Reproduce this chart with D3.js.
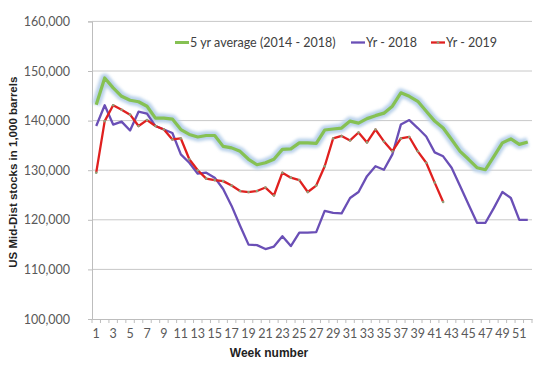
<!DOCTYPE html>
<html>
<head>
<meta charset="utf-8">
<script src="https://cdn.jsdelivr.net/npm/d3@7"></script>
<style>
  html, body { margin: 0; padding: 0; background: #fff; }
  svg { display: block; }
</style>
</head>
<body>
<svg id="chart" width="542" height="371"></svg>
<script>
const weeks = [1,2,3,4,5,6,7,8,9,10,11,12,13,14,15,16,17,18,19,20,21,22,23,24,25,26,
  27,28,29,30,31,32,33,34,35,36,37,38,39,40,41,42,43,44,45,46,47,48,49,50,51,52];

const avg5yr = [143200,148600,146600,144900,144100,143800,142900,140500,140500,140300,
  138200,137200,136700,137000,137000,134800,134500,133800,132200,131100,131500,132200,
  134200,134300,135500,135500,135400,138100,138300,138500,139900,139500,140400,141000,
  141500,142900,145600,144900,143900,141900,139900,138500,136200,133800,132200,130500,
  130100,132800,135500,136300,135200,135700];

const yr2018 = [138900,143100,139200,139800,138000,141800,141400,138900,138200,137500,
  133200,131500,129300,129500,128500,126200,122800,118800,115000,114900,114100,114600,
  116700,114700,117400,117400,117500,121800,121400,121300,124400,125600,128800,130800,
  130100,133200,139200,140100,138500,136800,133600,132800,130500,126800,123100,119400,
  119400,122400,125600,124400,120000,120000];

const yr2019 = [129500,139900,143100,142200,141200,138900,140100,138900,138200,136200,
  136400,132200,130000,128300,128000,127800,126900,125800,125600,125800,126500,124900,
  129500,128500,128000,125600,126900,130800,136400,136900,136000,137600,135600,138200,
  135800,133800,136400,136700,133800,131500,127500,123600];

const yTicks = [100000,110000,120000,130000,140000,150000,160000];
const seriesNames = ["5 yr average (2014 - 2018)", "Yr - 2018", "Yr - 2019"];
const yTitle = "US Mid-Dist stocks in 1,000 barrels";
const xTitle = "Week number";

(function () {
const svg = d3.select("#chart");
const mLeft = 92, mRight = 532, mTop = 21.4, mBottom = 319;

const x = d3.scaleBand().domain(weeks).range([mLeft, mRight]).padding(0);
const y = d3.scaleLinear().domain([100000, 160000]).range([mBottom, mTop]);

const defs = svg.append("defs");
defs.append("filter").attr("id", "glow").attr("x", "-10%").attr("y", "-30%")
  .attr("width", "120%").attr("height", "160%")
  .append("feGaussianBlur").attr("stdDeviation", 1.6);

// gridlines
svg.append("g").selectAll("line").data(yTicks.slice(1)).join("line")
  .attr("x1", mLeft).attr("x2", mRight)
  .attr("y1", d => y(d)).attr("y2", d => y(d))
  .attr("stroke", "#c8c8c8").attr("stroke-width", 1);

// y axis
const yAxis = svg.append("g").attr("transform", `translate(${mLeft},0)`)
  .call(d3.axisLeft(y).tickValues(yTicks).tickFormat(d3.format(",")).tickSize(4).tickPadding(18));
yAxis.select(".domain").attr("stroke", "#bdbdbd");
yAxis.selectAll(".tick line").attr("stroke", "#bdbdbd");
yAxis.selectAll("text").attr("fill", "#595959").style("font-family", "Lato, 'Open Sans', sans-serif").style("font-size", "12.5px");

// x axis
const xAxis = svg.append("g").attr("transform", `translate(0,${mBottom})`)
  .call(d3.axisBottom(x).tickValues(weeks).tickFormat(d => d % 2 === 1 ? d : "").tickSize(0).tickPadding(10));
xAxis.select(".domain").attr("stroke", "#bdbdbd");
xAxis.selectAll("text").attr("fill", "#595959").style("font-family", "Lato, 'Open Sans', sans-serif").style("font-size", "12.5px");
// tick marks between categories
svg.append("g").selectAll("line").data(weeks.concat([null])).join("line")
  .attr("x1", d => d === null ? mRight : x(d)).attr("x2", d => d === null ? mRight : x(d))
  .attr("y1", mBottom).attr("y2", mBottom + 4)
  .attr("stroke", "#bdbdbd").attr("stroke-width", 1);

// titles
svg.append("text").attr("transform", `translate(17,${(mTop + mBottom) / 2 + 2}) rotate(-90)`)
  .attr("text-anchor", "middle").attr("fill", "#222")
  .style("font-family", "'Liberation Sans', Arial, sans-serif").style("font-weight", "bold").style("font-size", "11.5px")
  .text(yTitle);
svg.append("text").attr("x", 269).attr("y", 357).attr("text-anchor", "middle").attr("fill", "#222")
  .style("font-family", "'Liberation Sans', Arial, sans-serif").style("font-weight", "bold").style("font-size", "12px")
  .text(xTitle);

const line = d3.line().x((d, i) => x(weeks[i]) + x.bandwidth() / 2).y(d => y(d));

// 5yr average with glow
svg.append("path").datum(avg5yr).attr("d", line).attr("fill", "none")
  .attr("stroke", "#b9d1ea").attr("stroke-width", 9).attr("stroke-linejoin", "round")
  .attr("filter", "url(#glow)");
svg.append("path").datum(avg5yr).attr("d", line).attr("fill", "none")
  .attr("stroke", "#86c153").attr("stroke-width", 3.2).attr("stroke-linejoin", "round");

// 2018
svg.append("path").datum(yr2018).attr("d", line).attr("fill", "none")
  .attr("stroke", "#6a4fb6").attr("stroke-width", 2.3).attr("stroke-linejoin", "round");

// 2019
svg.append("path").datum(yr2019).attr("d", line).attr("fill", "none")
  .attr("stroke", "#e0201f").attr("stroke-width", 2.3).attr("stroke-linejoin", "round");
svg.append("g").selectAll("circle").data(yr2019).join("circle")
  .attr("cx", (d, i) => x(weeks[i]) + x.bandwidth() / 2).attr("cy", d => y(d))
  .attr("r", 1.3).attr("fill", "#8fa07a");

// legend
const legend = svg.append("g").style("font-family", "Lato, 'Open Sans', sans-serif").style("font-size", "12.5px");
const legItems = [
  { name: seriesNames[0], color: "#86c153", x1: 175, glow: true },
  { name: seriesNames[1], color: "#6a4fb6", x1: 351 },
  { name: seriesNames[2], color: "#e0201f", x1: 431, dot: true }
];
const ly = 42.5;
legItems.forEach(it => {
  if (it.glow) {
    legend.append("line").attr("x1", it.x1).attr("x2", it.x1 + 14).attr("y1", ly).attr("y2", ly)
      .attr("stroke", "#b9d1ea").attr("stroke-width", 8).attr("filter", "url(#glow)");
  }
  legend.append("line").attr("x1", it.x1).attr("x2", it.x1 + 14).attr("y1", ly).attr("y2", ly)
    .attr("stroke", it.color).attr("stroke-width", it.glow ? 3 : 2.3);
  if (it.dot) {
    legend.append("circle").attr("cx", it.x1 + 7).attr("cy", ly).attr("r", 1.3).attr("fill", "#8fa07a");
  }
  legend.append("text").attr("x", it.x1 + 15).attr("y", ly + 4.3).attr("fill", "#404040").text(it.name);
});
})();
</script>
</body>
</html>
